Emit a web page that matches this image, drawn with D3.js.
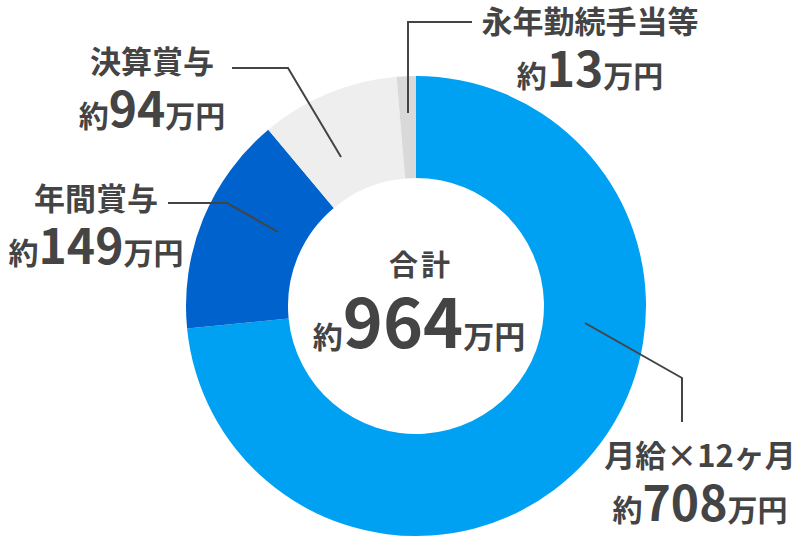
<!DOCTYPE html>
<html>
<head>
<meta charset="utf-8">
<script src="https://cdn.jsdelivr.net/npm/d3@7"></script>
<style>
  body { margin: 0; background: #fff; }
  text { font-family: "Noto Sans CJK JP", "Noto Sans", sans-serif; font-weight: 700; fill: #444; }
</style>
</head>
<body>
<script>
// data
var names = ["月給×12ヶ月", "年間賞与", "決算賞与", "永年勤続手当等"];
var values = [708, 149, 94, 13];
var colors = ["#00a0f2", "#0062cc", "#eeeeee", "#d9d9d9"];
var totalLabel = "合計";

var w = 800, h = 560;
var cx = 416, cy = 306;
var outerR = 230, innerR = 128;

// label layout: line start offset from centre, elbow, end, label anchor
var labelLayout = [
  { p0: [169, 17], p1: [266, 72], p2: [266, 116], tx: 700, ty: 467 },
  { p0: [-138, -74], p1: [-189, -103], p2: [-248, -103], tx: 96, ty: 210 },
  { p0: [-75, -149], p1: [-128, -238], p2: [-184, -238], tx: 152, ty: 73 },
  { p0: [-8, -193], p1: [-8, -284], p2: [56, -284], tx: 590, ty: 33 }
];

var svg = d3.select("body").append("svg")
    .attr("width", w)
    .attr("height", h);

var g = svg.append("g")
    .attr("transform", "translate(" + cx + "," + cy + ")");

var pie = d3.pie().sort(null).value(function(d){ return d; });
var arc = d3.arc().innerRadius(innerR).outerRadius(outerR);

g.selectAll("path")
    .data(pie(values))
    .enter().append("path")
    .attr("d", arc)
    .attr("fill", function(d, i){ return colors[i]; });

// leader lines
var line = d3.line();
g.selectAll(".leader")
    .data(labelLayout)
    .enter().append("path")
    .attr("class", "leader")
    .attr("d", function(d){ return line([d.p0, d.p1, d.p2]); })
    .attr("fill", "none")
    .attr("stroke", "#444")
    .attr("stroke-width", 2);

// labels
names.forEach(function(n, i){
  var L = labelLayout[i];
  svg.append("text")
      .attr("x", L.tx).attr("y", L.ty)
      .attr("text-anchor", "middle")
      .style("font-size", "31px")
      .text(n);
  var t = svg.append("text")
      .attr("x", L.tx).attr("y", L.ty + 54)
      .attr("text-anchor", "middle");
  t.append("tspan").style("font-size", "30px").text("約");
  t.append("tspan").style("font-size", "48px").text(values[i]);
  t.append("tspan").style("font-size", "30px").text("万円");
});

// centre total
var total = d3.sum(values);
svg.append("text")
    .attr("x", 421).attr("y", 276)
    .attr("text-anchor", "middle")
    .style("font-size", "29px")
    .style("letter-spacing", "3px")
    .text(totalLabel);
var tt = svg.append("text")
    .attr("x", 419).attr("y", 348)
    .attr("text-anchor", "middle");
tt.append("tspan").style("font-size", "30px").text("約");
tt.append("tspan").style("font-size", "68px").text(total);
tt.append("tspan").style("font-size", "31px").text("万円");
</script>
</body>
</html>
